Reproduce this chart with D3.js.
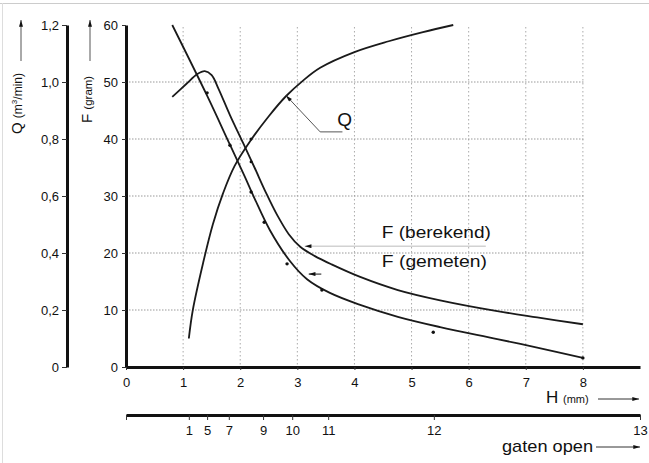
<!DOCTYPE html>
<html>
<head>
<meta charset="utf-8">
<script src="https://cdn.jsdelivr.net/npm/d3@7"></script>
<style>
  body { margin: 0; background: #fff; }
  svg text { font-family: Arial, "Liberation Sans", sans-serif; fill: #111; }
</style>
</head>
<body>
<svg id="chart" width="649" height="463"></svg>
<script>
// axis ticks
const hTicks = [0, 1, 2, 3, 4, 5, 6, 7, 8];
const fTicks = [0, 10, 20, 30, 40, 50, 60];
const qTicks = [0, 0.2, 0.4, 0.6, 0.8, 1.0, 1.2];
const gridH = [1, 2, 3, 4, 5, 6, 7, 8];
const gridF = [10, 20, 30, 40, 50];

// second scale: number of holes open, placed at their H value
const gatenLabels = ["", "1", "5", "7", "9", "10", "11", "12", "13"];
const gatenH = [0, 1.10, 1.42, 1.80, 2.40, 2.91, 3.54, 5.39, 9.0];

// Q (m3/min) against H
const qH = [1.10, 1.17, 1.35, 1.52, 1.70, 1.9, 2.2, 2.5, 2.8, 3.1, 3.4, 4.0, 4.6, 5.2, 5.73];
const qValues = [0.10, 0.20, 0.365, 0.50, 0.61, 0.705, 0.80, 0.88, 0.95, 1.005, 1.05, 1.105, 1.143, 1.175, 1.2];

// F (berekend)
const fBerekendH = [0.81, 1.05, 1.25, 1.38, 1.50, 1.62, 1.82, 2.05, 2.25, 2.45, 2.65, 2.85, 3.05, 3.3, 3.6, 4.1, 4.76, 5.5, 6.5, 7.2, 8.0];
const fBerekendValues = [47.4, 49.6, 51.4, 51.9, 51.2, 48.8, 44.2, 39.3, 35.0, 30.6, 26.6, 23.3, 21.1, 19.5, 18.0, 15.8, 13.5, 11.7, 9.8, 8.7, 7.5];

// F (gemeten)
const fGemetenH = [0.81, 1.42, 1.82, 2.08, 2.25, 2.52, 2.87, 3.17, 3.57, 4.10, 4.76, 5.5, 6.5, 7.2, 8.0];
const fGemetenValues = [60, 47.6, 39.0, 33.4, 29.6, 24.0, 18.6, 15.4, 13.0, 10.9, 8.8, 7.0, 4.9, 3.4, 1.6];

// measured points
const measuredH = [1.42, 1.82, 2.19, 2.42, 2.82, 3.43, 5.38, 8.0];
const measuredF = [48.1, 38.9, 30.7, 25.4, 18.1, 13.5, 6.1, 1.6];

// small marks on the Q and F (berekend) curves
const markQ = [[2.19, 0.80]];
const markF = [[2.19, 36.0]];

const svg = d3.select("#chart");
const font = 'Arial, "Liberation Sans", sans-serif';

const x = d3.scaleLinear().domain([0, 9]).range([126, 640]);
const yF = d3.scaleLinear().domain([0, 60]).range([367, 25]);
const yQ = d3.scaleLinear().domain([0, 1.2]).range([367, 25]);

// frame edges
svg.append("line").attr("x1", 0).attr("x2", 649).attr("y1", 3.5).attr("y2", 3.5)
  .attr("stroke", "#ccc");
svg.append("line").attr("x1", 2.5).attr("x2", 2.5).attr("y1", 3).attr("y2", 463)
  .attr("stroke", "#ddd");

const defs = svg.append("defs");
defs.append("marker")
  .attr("id", "arrow")
  .attr("viewBox", "0 0 10 6")
  .attr("refX", 10).attr("refY", 3)
  .attr("markerWidth", 8).attr("markerHeight", 4)
  .attr("markerUnits", "userSpaceOnUse")
  .attr("orient", "auto")
  .append("path").attr("d", "M0,0L10,3L0,6Z").attr("fill", "#111");

// grid
svg.append("g").selectAll("line").data(gridH).join("line")
  .attr("x1", d => x(d)).attr("x2", d => x(d))
  .attr("y1", yF(60) + 2).attr("y2", yF(0))
  .attr("stroke", "#aaa").attr("stroke-dasharray", "1.5,2.5");
svg.append("g").selectAll("line").data(gridF).join("line")
  .attr("x1", x(0)).attr("x2", x(8.03))
  .attr("y1", d => yF(d)).attr("y2", d => yF(d))
  .attr("stroke", "#999").attr("stroke-dasharray", "1.5,1.5");

function styleAxis(g) {
  g.attr("font-size", 13).attr("font-family", font);
  g.select(".domain").attr("stroke", "#111").attr("stroke-width", 3);
  g.selectAll(".tick line").attr("stroke", "#333");
}

const fmtQ = d => d === 0 ? "0" : d3.format(".1f")(d).replace(".", ",");

svg.append("g").attr("transform", "translate(67,0)")
  .call(d3.axisLeft(yQ).tickValues(qTicks).tickFormat(fmtQ).tickSize(5).tickPadding(3).tickSizeOuter(0))
  .call(styleAxis);

svg.append("g").attr("transform", "translate(126,0)")
  .call(d3.axisLeft(yF).tickValues(fTicks).tickSize(4).tickPadding(4).tickSizeOuter(0))
  .call(styleAxis);

svg.append("g").attr("transform", "translate(0,367)")
  .call(d3.axisBottom(x).tickValues(hTicks).tickSize(3).tickPadding(8).tickSizeOuter(0))
  .call(styleAxis);

svg.append("g").attr("transform", "translate(0,415)")
  .call(d3.axisBottom(x).tickValues(gatenH).tickFormat((d, i) => gatenLabels[i])
    .tickSize(5).tickPadding(6).tickSizeOuter(0))
  .call(styleAxis);

// curves
const curve = d3.curveCatmullRom.alpha(0.5);
const lineF = d3.line().x(d => x(d[0])).y(d => yF(d[1])).curve(curve);
const lineQ = d3.line().x(d => x(d[0])).y(d => yQ(d[1])).curve(curve);

svg.append("path").datum(d3.zip(qH, qValues)).attr("d", lineQ)
  .attr("fill", "none").attr("stroke", "#1a1a1a").attr("stroke-width", 1.8);
svg.append("path").datum(d3.zip(fBerekendH, fBerekendValues)).attr("d", lineF)
  .attr("fill", "none").attr("stroke", "#1a1a1a").attr("stroke-width", 1.8);
svg.append("path").datum(d3.zip(fGemetenH, fGemetenValues)).attr("d", lineF)
  .attr("fill", "none").attr("stroke", "#1a1a1a").attr("stroke-width", 1.8);

svg.append("g").selectAll("circle").data(d3.zip(measuredH, measuredF)).join("circle")
  .attr("cx", d => x(d[0])).attr("cy", d => yF(d[1])).attr("r", 1.7).attr("fill", "#111");
svg.append("g").selectAll("circle").data(markQ).join("circle")
  .attr("cx", d => x(d[0])).attr("cy", d => yQ(d[1])).attr("r", 1.5).attr("fill", "#111");
svg.append("g").selectAll("circle").data(markF).join("circle")
  .attr("cx", d => x(d[0])).attr("cy", d => yF(d[1])).attr("r", 1.5).attr("fill", "#111");

// Q annotation
const qLeader = [[3.79, 0.825], [3.4, 0.825], [2.8, 0.953]];
svg.append("path")
  .attr("d", d3.line().x(d => x(d[0])).y(d => yQ(d[1]))(qLeader))
  .attr("fill", "none").attr("stroke", "#555").attr("stroke-width", 1)
  .attr("marker-end", "url(#arrow)");
svg.append("text").attr("x", x(3.7)).attr("y", yQ(0.846))
  .attr("font-size", 19).text("Q");

// F annotations
svg.append("line")
  .attr("x1", x(6.3)).attr("x2", x(3.13))
  .attr("y1", yF(21.2)).attr("y2", yF(21.2))
  .attr("stroke", "#bbb").attr("stroke-width", 1)
  .attr("marker-end", "url(#arrow)");
svg.append("line")
  .attr("x1", x(3.42)).attr("x2", x(3.2))
  .attr("y1", yF(16.3)).attr("y2", yF(16.3))
  .attr("stroke", "#111").attr("stroke-width", 1)
  .attr("marker-end", "url(#arrow)");
svg.append("text").attr("x", x(4.48)).attr("y", yF(22.6))
  .attr("font-size", 16).attr("textLength", 109).attr("lengthAdjust", "spacingAndGlyphs")
  .text("F (berekend)");
svg.append("text").attr("x", x(4.48)).attr("y", yF(17.5))
  .attr("font-size", 16).attr("textLength", 105).attr("lengthAdjust", "spacingAndGlyphs")
  .text("F (gemeten)");

// axis titles
const qTitle = svg.append("text").attr("transform", "translate(22,134) rotate(-90)");
qTitle.append("tspan").attr("font-size", 15).text("Q ");
qTitle.append("tspan").attr("font-size", 12).text("(m");
qTitle.append("tspan").attr("font-size", 8).attr("dy", -5).text("3");
qTitle.append("tspan").attr("font-size", 12).attr("dy", 5).text("/min)");

const fTitle = svg.append("text").attr("transform", "translate(92,123) rotate(-90)");
fTitle.append("tspan").attr("font-size", 15).text("F ");
fTitle.append("tspan").attr("font-size", 11.5).text("(gram)");

[[21, 61, 20], [90, 61, 20]].forEach(([ax, y1, y2]) => {
  svg.append("line").attr("x1", ax).attr("x2", ax).attr("y1", y1).attr("y2", y2)
    .attr("stroke", "#555").attr("stroke-width", 1).attr("marker-end", "url(#arrow)");
});

const hTitle = svg.append("text").attr("x", 546).attr("y", 403);
hTitle.append("tspan").attr("font-size", 17).text("H ");
hTitle.append("tspan").attr("font-size", 11).text("(mm)");
svg.append("line").attr("x1", 598).attr("x2", 639).attr("y1", 399).attr("y2", 399)
  .attr("stroke", "#333").attr("marker-end", "url(#arrow)");

svg.append("text").attr("x", 502).attr("y", 452).attr("font-size", 17)
  .attr("textLength", 91).attr("lengthAdjust", "spacingAndGlyphs").text("gaten open");
svg.append("line").attr("x1", 596).attr("x2", 640).attr("y1", 447).attr("y2", 447)
  .attr("stroke", "#333").attr("marker-end", "url(#arrow)");
</script>
</body>
</html>
